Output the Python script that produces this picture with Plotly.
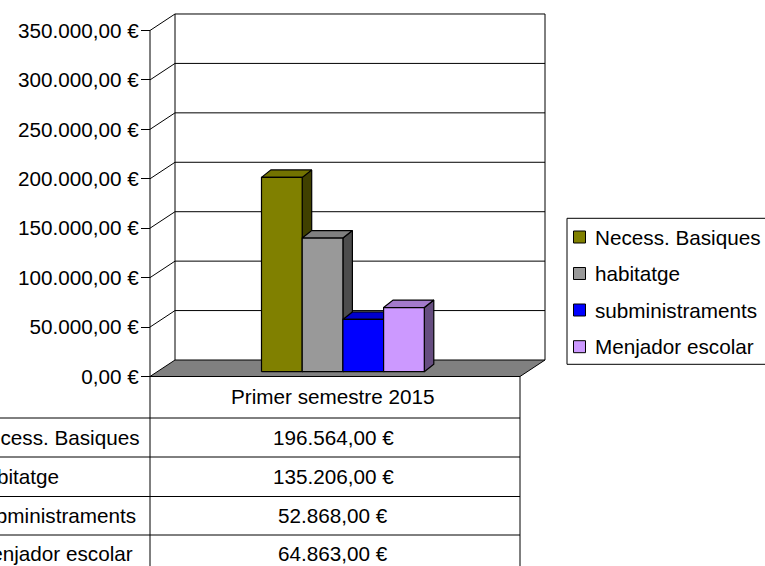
import plotly.graph_objects as go

# ---------------- data ----------------
categories = ["Necess. Basiques", "habitatge", "subministraments", "Menjador escolar"]
values = [196564, 135206, 52868, 64863]
period = "Primer semestre 2015"
tick_values = [0, 50000, 100000, 150000, 200000, 250000, 300000, 350000]

front_colors = ["#808000", "#999999", "#0000FF", "#CC99FF"]
top_colors = ["#737300", "#808080", "#0000CC", "#A37ACC"]
side_colors = ["#404000", "#4D4D4D", "#000080", "#664D80"]

# ---------------- layout constants (pixels) ----------------
W, H = 765, 566
Y0 = 376.5            # pixel row of value 0 on the front plane
PX_PER_UNIT = 0.9886 / 1000.0
U = 1.0 / PX_PER_UNIT  # value units per pixel

AX = 150               # front axis x
BACK_L, BACK_R = 175, 545
FRONT_R = 520
DEPTH_Y = 16.5 * U     # floor depth expressed in value units
BAR_BASE = 4.8 * U
BAR_DX, BAR_DY = 9.5, 7.5 * U
BAR_X0, BAR_W = 261.5, 40.7

FONT = "Liberation Sans, Arial, sans-serif"
FS = 20.7


def eur(v):
    s = f"{v:,.2f}".replace(",", "X").replace(".", ",").replace("X", ".")
    return s + " €"


def py(p):
    """pixel row -> paper y"""
    return 1 - p / H


def px(p):
    return p / W


fig = go.Figure()

shapes = []
line_k = dict(color="#000000", width=1)

# floor
shapes.append(dict(
    type="path", xref="x", yref="y", layer="below",
    path=f"M {AX},0 L {BACK_L},{DEPTH_Y} L {BACK_R},{DEPTH_Y} L {FRONT_R},0 Z",
    fillcolor="#808080", line=line_k))

# back wall gridlines + side wall diagonals
for t in tick_values:
    if t > 0:
        shapes.append(dict(type="line", xref="x", yref="y", layer="below",
                           x0=BACK_L, x1=BACK_R, y0=t + DEPTH_Y, y1=t + DEPTH_Y, line=line_k))
        shapes.append(dict(type="line", xref="x", yref="y", layer="below",
                           x0=AX, x1=BACK_L, y0=t, y1=t + DEPTH_Y, line=line_k))

top_v = tick_values[-1]
for xx, y0, y1 in [(BACK_L, DEPTH_Y, top_v + DEPTH_Y), (BACK_R, DEPTH_Y, top_v + DEPTH_Y), (AX, 0, top_v)]:
    shapes.append(dict(type="line", xref="x", yref="y", layer="below",
                       x0=xx, x1=xx, y0=y0, y1=y1, line=line_k))

# bars (side, top, front) drawn left to right
for i, (cat, v) in enumerate(zip(categories, values)):
    x0 = BAR_X0 + i * BAR_W
    x1 = x0 + BAR_W
    b = BAR_BASE
    t = BAR_BASE + v
    side = ([x1, x1 + BAR_DX, x1 + BAR_DX, x1, x1], [b, b + BAR_DY, t + BAR_DY, t, b])
    top = ([x0, x1, x1 + BAR_DX, x0 + BAR_DX, x0], [t, t, t + BAR_DY, t + BAR_DY, t])
    front = ([x0, x1, x1, x0, x0], [b, b, t, t, b])
    for (xs, ys), col in [(side, side_colors[i]), (top, top_colors[i]), (front, front_colors[i])]:
        fig.add_trace(go.Scatter(x=xs, y=ys, mode="lines", fill="toself", fillcolor=col,
                                 line=dict(color="#000000", width=1.2), name=cat,
                                 showlegend=False, hoverinfo="skip"))

# ---------------- data table ----------------
row_lines = [418, 457, 496.5, 535]
row_centers = [437.5, 476.7, 515.7, 553.5]
for r in row_lines:
    shapes.append(dict(type="line", xref="paper", yref="paper",
                       x0=px(-5), x1=px(FRONT_R), y0=py(r), y1=py(r), line=line_k))
for xx in [AX, FRONT_R]:
    shapes.append(dict(type="line", xref="paper", yref="paper",
                       x0=px(xx), x1=px(xx), y0=py(Y0), y1=py(H + 5), line=line_k))

annotations = []
TABLE_CX = 333
annotations.append(dict(text=period, xref="paper", yref="paper", x=px(TABLE_CX), y=py(396.5),
                        xanchor="center", yanchor="middle", showarrow=False,
                        font=dict(family=FONT, size=FS, color="#000")))
for cat, v, rc in zip(categories, values, row_centers):
    annotations.append(dict(text=eur(v), xref="paper", yref="paper", x=px(TABLE_CX), y=py(rc),
                            xanchor="center", yanchor="middle", showarrow=False,
                            font=dict(family=FONT, size=FS, color="#000")))
    annotations.append(dict(text=cat, xref="paper", yref="paper", x=px(-28), y=py(rc),
                            xanchor="left", yanchor="middle", showarrow=False,
                            font=dict(family=FONT, size=FS, color="#000")))

# ---------------- legend (drawn manually) ----------------
LEG_L, LEG_T, LEG_B = 567, 218.3, 364.3
shapes.append(dict(type="rect", xref="paper", yref="paper",
                   x0=px(LEG_L), x1=px(W + 10), y0=py(LEG_T), y1=py(LEG_B),
                   line=line_k, fillcolor="rgba(0,0,0,0)"))
leg_rows = [237, 273.5, 310, 346.7]
for cat, col, rc in zip(categories, front_colors, leg_rows):
    shapes.append(dict(type="rect", xref="paper", yref="paper",
                       x0=px(573.5), x1=px(585.5), y0=py(rc - 6), y1=py(rc + 6),
                       line=line_k, fillcolor=col))
    annotations.append(dict(text=cat, xref="paper", yref="paper", x=px(593), y=py(rc),
                            xanchor="left", yanchor="middle", showarrow=False,
                            font=dict(family=FONT, size=FS, color="#000")))

fig.update_layout(
    width=W, height=H,
    margin=dict(l=0, r=0, t=0, b=0, pad=0),
    paper_bgcolor="#FFFFFF", plot_bgcolor="#FFFFFF",
    showlegend=False,
    shapes=shapes, annotations=annotations,
    xaxis=dict(range=[0, W], visible=False, showgrid=False, zeroline=False, fixedrange=True),
    yaxis=dict(range=[(Y0 - H) * U, Y0 * U], anchor="free", position=AX / W,
               tickvals=tick_values, ticktext=[eur(t) for t in tick_values],
               ticks="outside", ticklen=9, tickwidth=1, tickcolor="#000",
               ticklabelstandoff=-2,
               showgrid=False, zeroline=False, showline=False, fixedrange=True,
               tickfont=dict(family=FONT, size=FS, color="#000")),
    font=dict(family=FONT, size=FS, color="#000"),
)

fig.write_html(
    "out.html",
    config={"displayModeBar": False},
    post_script="document.body.style.margin='0';document.body.style.overflow='hidden';",
)
